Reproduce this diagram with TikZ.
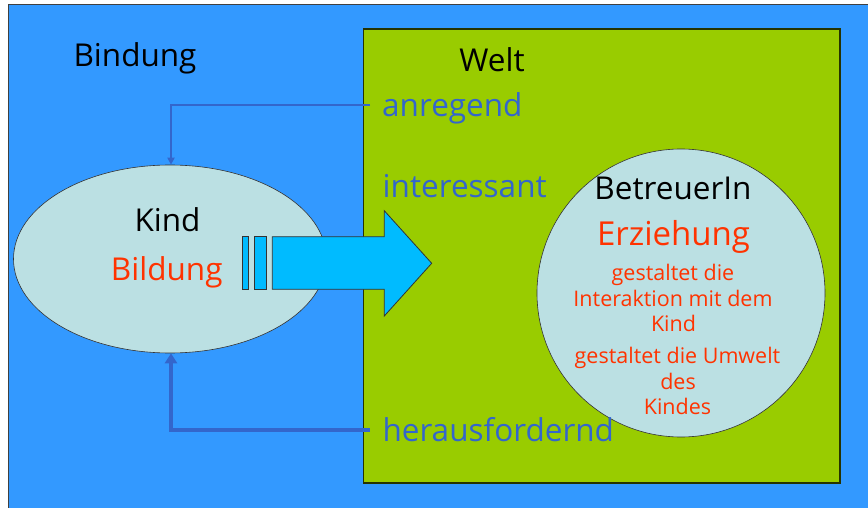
\documentclass[tikz,border=0pt]{standalone}
\usepackage{fontspec}
\setmainfont{Open Sans}
\usetikzlibrary{arrows.meta,shapes.geometric}
\definecolor{bgblue}{HTML}{3399FF}
\definecolor{welt}{HTML}{99CC00}
\definecolor{paleblue}{HTML}{BBE0E3}
\definecolor{arrowcyan}{HTML}{00BBFF}
\definecolor{txtblue}{HTML}{3366CC}
\definecolor{txtred}{HTML}{FF3300}
\tikzset{
  big/.style={font=\fontsize{31.5}{36}\selectfont, inner sep=0pt},
  small/.style={font=\fontsize{21.5}{25}\selectfont, inner sep=0pt, text=txtred, anchor=base},
  bluetxt/.style={big, text=txtblue, anchor=base west},
  conn/.style={draw=txtblue, -{Triangle[length=7pt,width=7pt]}},
  arrowpart/.style={fill=arrowcyan, draw=black!80, line width=0.8pt, line join=miter},
}
\begin{document}
\begin{tikzpicture}[x=1pt,y=-1pt]
\useasboundingbox (0,0) rectangle (868,508);
% background
\fill[white] (0,0) rectangle (868,508);
\path[fill=bgblue, draw=black!75, line width=1pt] (8,5) rectangle (872,512);
% world
\path[fill=welt, draw=black!75!welt, line width=1.5pt] (363.5,29) rectangle (840,483);
% child ellipse
\node[ellipse, draw=black!80, fill=paleblue, line width=0.6pt, minimum width=313pt, minimum height=188pt, inner sep=0pt] (kind) at (170,259) {};
% caregiver circle
\node[circle, draw=black!80, fill=paleblue, line width=0.6pt, minimum size=288pt, inner sep=0pt] (betr) at (681,293) {};
% big arrow
\path[arrowpart] (242.7,236.7) rectangle (248.3,289.3);
\path[arrowpart] (254.3,236.7) rectangle (266.3,289.3);
\path[arrowpart] (272.3,236.7) -- (384.3,236.7) -- (384.3,210.7) -- (431.7,263.3) -- (384.3,316) -- (384.3,289.3) -- (272.3,289.3) -- cycle;
% texts
\node[big, anchor=base] (bindung) at (135,67) {Bindung};
\node[big, anchor=base] (weltlbl) at (492,72) {Welt};
\node[bluetxt] (anregend) at (382,116.5) {anregend};
\node[bluetxt] (interessant) at (382.5,197.3) {interessant};
\node[bluetxt] (heraus) at (382.3,441.7) {herausfordernd};
\node[big, anchor=base] (kindlbl) at (167.5,231) {Kind};
\node[big, anchor=base, text=txtred] (bildung) at (166.7,280) {Bildung};
\node[big, anchor=base] (betreuer) at (673,200) {BetreuerIn};
\node[big, anchor=base, text=txtred, font=\fontsize{33}{38}\selectfont] (erziehung) at (673.5,245) {Erziehung};
\node[small] (s1) at (673,280) {gestaltet die};
\node[small] (s2) at (673,306.7) {Interaktion mit dem};
\node[small] (s3) at (673.5,331.7) {Kind};
\node[small] (s4) at (677.5,363.3) {gestaltet die Umwelt};
\node[small] (s5) at (678,389.3) {des};
\node[small] (s6) at (677.5,414.3) {Kindes};
% connectors
\coordinate (a1) at (370,105);
\coordinate (h1) at (370,430);
\draw[conn, line width=2pt] (a1) -| ([xshift=1pt]kind.north);
\draw[conn, line width=4pt, -{Triangle[length=10pt,width=12pt]}] (h1) -| ([xshift=1pt]kind.south);
\end{tikzpicture}
\end{document}
